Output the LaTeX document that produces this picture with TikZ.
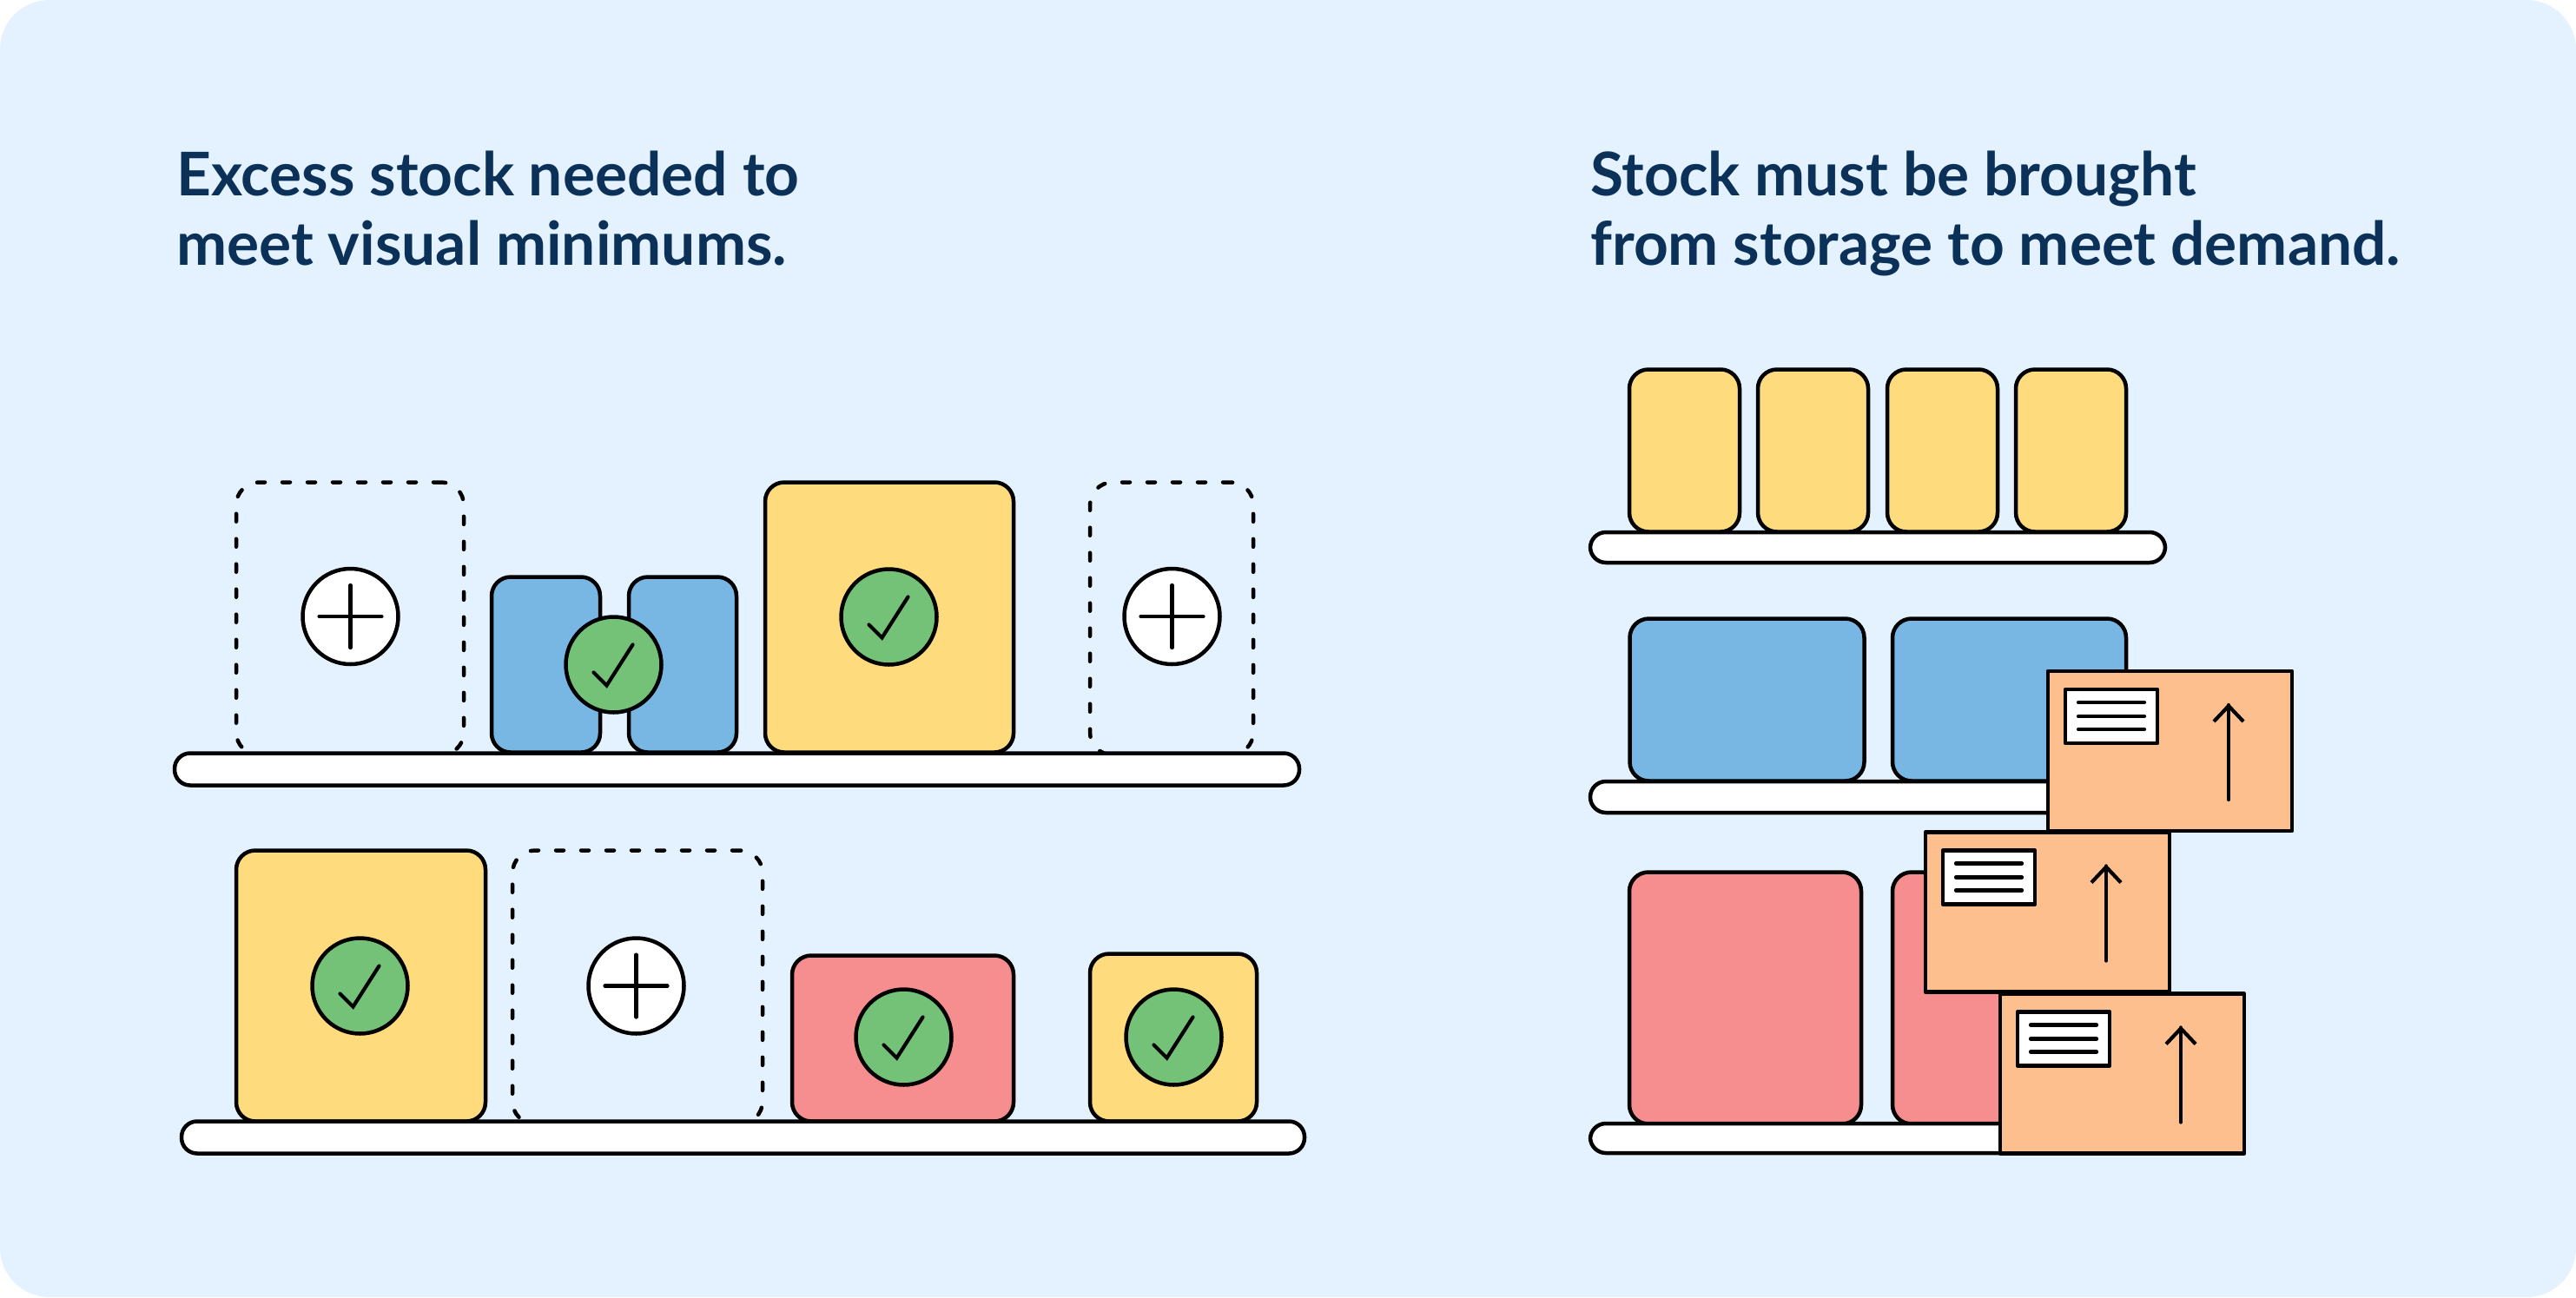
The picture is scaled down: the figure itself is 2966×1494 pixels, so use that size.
\documentclass[tikz,border=0pt]{standalone}
\usepackage{fontspec}
\setmainfont{Lato}
\definecolor{panel}{HTML}{E4F1FF}
\definecolor{navy}{HTML}{0B3158}
\definecolor{bluebox}{HTML}{78B6E4}
\definecolor{yellowbox}{HTML}{FEDB7C}
\definecolor{pinkbox}{HTML}{F68D8F}
\definecolor{greenbadge}{HTML}{74C277}
\definecolor{orangebox}{HTML}{FEBF8F}
\tikzset{
  stock/.style={draw=black,line width=4.5pt,rounded corners=22pt,inner sep=0pt},
  ghost/.style={draw=black,line width=4.5pt,rounded corners=26pt,inner sep=0pt,dash pattern=on 9pt off 20pt,line cap=round},
  shelf/.style={draw=black,fill=white,line width=4.5pt,rounded corners=18pt,inner sep=0pt},
  headline/.style={navy,font=\fontsize{69.4pt}{80pt}\selectfont\bfseries,align=left,anchor=north west,inner sep=0pt},
  badge/.style={circle,draw=black,line width=4.5pt,minimum size=110pt,inner sep=0pt},
  mark line/.style={line width=4.2pt,line cap=round,line join=miter},
  ok/.pic={
    \node[badge,fill=greenbadge] (-disc) at (0,0) {};
    \draw[mark line] (-23,9) -- (-8,24) -- (22,-23);
  },
  add/.pic={
    \node[badge,fill=white] (-disc) at (0,0) {};
    \draw[mark line] (-36,0) -- (36,0) (0,-36) -- (0,36);
  },
  parcel/.pic={
    \node[draw=black,fill=orangebox,line width=4.5pt,minimum width=281pt,minimum height=184pt,inner sep=0pt,line join=round] (-body) at (140.5,92) {};
    \node[draw=black,fill=white,line width=4.5pt,minimum width=106pt,minimum height=62pt,inner sep=0pt,line join=round] (-label) at (73,52) {};
    \draw[mark line] (35,36) -- (111,36) (35,52) -- (111,52) (35,67) -- (111,67);
    \draw[mark line] (208,148) -- (208,39);
    \draw[mark line,line cap=butt,line join=miter] (191,58) -- (208,40) -- (225,58);
  }
}
\begin{document}
\begin{tikzpicture}[x=1pt,y=-1pt]
  \useasboundingbox (0,0) rectangle (2966,1494);
  \fill[panel,rounded corners=57pt] (0,0) rectangle (2966,1494);

  \node[headline] (titleleft) at (203,174) {Excess stock needed to\\meet visual minimums.};
  \node[headline] (titleright) at (1831,174) {Stock must be brought\\from storage to meet demand.};

  \begin{scope}[shift={(0,1.5)}]
  % left, top shelf
  \node[ghost,minimum width=262pt,minimum height=314pt] (gapA) at (403,711) {};
  \node[stock,fill=bluebox,minimum width=125pt,minimum height=202pt] (blueA) at (628.5,764) {};
  \node[stock,fill=bluebox,minimum width=124pt,minimum height=202pt] (blueB) at (786,764) {};
  \node[stock,fill=yellowbox,minimum width=286pt,minimum height=311pt] (yellowA) at (1024,709.5) {};
  \node[ghost,minimum width=188pt,minimum height=314pt] (gapB) at (1349,711) {};
  \node[shelf,minimum width=1295pt,minimum height=37pt] (shelfA) at (848.5,884.5) {};
  \pic (plusA) at (403.5,708.5) {add};
  \pic (tickA) at (706.5,764) {ok};
  \pic (tickB) at (1023.5,709) {ok};
  \pic (plusB) at (1349.5,708.5) {add};

  % left, bottom shelf
  \node[stock,fill=yellowbox,minimum width=287pt,minimum height=312pt] (yellowB) at (415.5,1134) {};
  \node[ghost,minimum width=288pt,minimum height=315pt] (gapC) at (734,1135.5) {};
  \node[stock,fill=pinkbox,minimum width=255pt,minimum height=191pt] (pinkA) at (1039.5,1194.5) {};
  \node[stock,fill=yellowbox,minimum width=192pt,minimum height=193pt] (yellowC) at (1351,1193.5) {};
  \node[shelf,minimum width=1293pt,minimum height=37pt] (shelfB) at (855.5,1308.5) {};
  \pic (tickC) at (414.5,1134) {ok};
  \pic (plusC) at (732.5,1134) {add};
  \pic (tickD) at (1040.5,1193) {ok};
  \pic (tickE) at (1351.5,1193) {ok};

  % right, three shelves
  \node[stock,fill=yellowbox,minimum width=127pt,minimum height=187pt] (stackA) at (1939.5,517.5) {};
  \node[stock,fill=yellowbox,minimum width=127pt,minimum height=187pt] (stackB) at (2087.5,517.5) {};
  \node[stock,fill=yellowbox,minimum width=127pt,minimum height=187pt] (stackC) at (2236.5,517.5) {};
  \node[stock,fill=yellowbox,minimum width=127pt,minimum height=187pt] (stackD) at (2384.5,517.5) {};
  \node[shelf,minimum width=662pt,minimum height=35pt] (shelfC) at (2162,629) {};

  \node[stock,fill=bluebox,minimum width=270pt,minimum height=187pt] (bulkA) at (2011.5,804.5) {};
  \node[stock,fill=bluebox,minimum width=269pt,minimum height=187pt] (bulkB) at (2313.5,804.5) {};
  \node[shelf,minimum width=620pt,minimum height=36pt] (shelfD) at (2141,916.5) {};

  \node[stock,fill=pinkbox,minimum width=267pt,minimum height=290pt] (crateA) at (2009.5,1148) {};
  \node[stock,fill=pinkbox,minimum width=269pt,minimum height=290pt] (crateB) at (2313.5,1148) {};
  \node[shelf,minimum width=660pt,minimum height=34pt] (shelfE) at (2161,1309.5) {};

  \pic (parcelC) at (2303,1143) {parcel};
  \pic (parcelB) at (2217,957) {parcel};
  \pic (parcelA) at (2358,771.5) {parcel};
  \end{scope}
\end{tikzpicture}
\end{document}
